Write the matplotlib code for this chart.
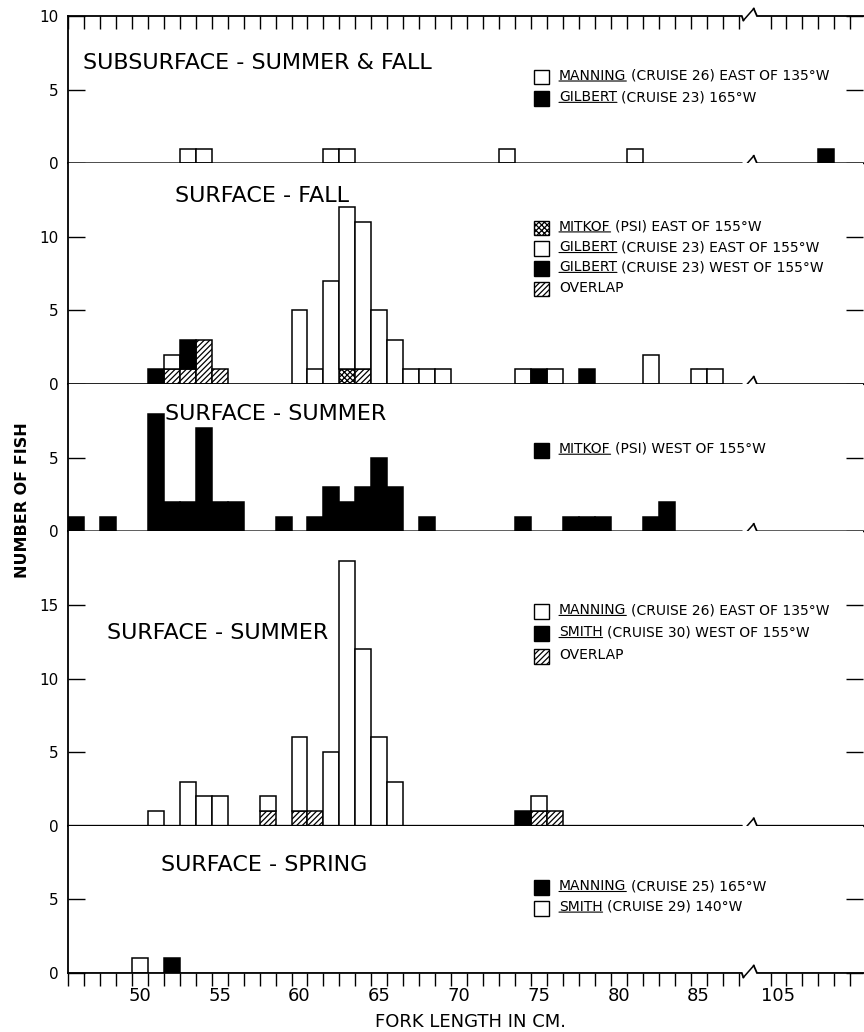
import matplotlib
matplotlib.use('Agg')
import matplotlib.pyplot as plt
from matplotlib.patches import Rectangle

plt.rcParams['font.family'] = ['DejaVu Sans']
plt.rcParams['hatch.linewidth'] = 0.9

# ---- data (fork length in cm, number of fish per 1-cm class) ----
# each list is the height of that bar segment; segments are stacked in the order drawn

# subsurface - summer & fall
p1_manning_len = [53, 54, 62, 63, 73, 81]
p1_manning_n = [1, 1, 1, 1, 1, 1]
p1_gilbert_len = [108]
p1_gilbert_n = [1]

# surface - fall
p2_mitkof_len = [63]
p2_mitkof_n = [1]
p2_overlap_len = [52, 53, 54, 55, 64]
p2_overlap_n = [1, 1, 3, 1, 1]
p2_east_len = [52, 60, 61, 62, 63, 64, 65, 66, 67, 68, 69, 74, 76, 82, 85, 86]
p2_east_n = [1, 5, 1, 7, 11, 10, 5, 3, 1, 1, 1, 1, 1, 2, 1, 1]
p2_west_len = [51, 53, 75, 78]
p2_west_n = [1, 2, 1, 1]

# surface - summer (mitkof)
p3_mitkof_len = [46, 48, 51, 52, 53, 54, 55, 56, 59, 61, 62, 63, 64, 65, 66,
                 68, 74, 77, 78, 79, 82, 83]
p3_mitkof_n = [1, 1, 8, 2, 2, 7, 2, 2, 1, 1, 3, 2, 3, 5, 3,
               1, 1, 1, 1, 1, 1, 2]

# surface - summer (manning / smith)
p4_overlap_len = [58, 60, 61, 75, 76]
p4_overlap_n = [1, 1, 1, 1, 1]
p4_manning_len = [51, 53, 54, 55, 58, 60, 62, 63, 64, 65, 66, 75]
p4_manning_n = [1, 3, 2, 2, 1, 5, 5, 18, 12, 6, 3, 1]
p4_smith_len = [74]
p4_smith_n = [1]

# surface - spring
p5_smith_len = [50]
p5_smith_n = [1]
p5_manning_len = [52]
p5_manning_n = [1]

x_labels = [50, 55, 60, 65, 70, 75, 80, 85, 105]

BREAK_SHIFT = 15  # scale break: 105 cm sits where 90 would be


def pos(lengths):
    return [v - BREAK_SHIFT if v > 88 else v for v in lengths]


WHITE = dict(facecolor='white')
BLACK = dict(facecolor='black')
HATCH = dict(facecolor='white', hatch='//////')
CROSS = dict(facecolor='white', hatch='xxxxxx')


def stack(ax, base, lengths, counts, style):
    bottoms = [base.get(v, 0) for v in lengths]
    ax.bar(pos(lengths), counts, width=1.0, bottom=bottoms,
           edgecolor='black', linewidth=1.1, **style)
    for v, c in zip(lengths, counts):
        base[v] = base.get(v, 0) + c


def broken_line(ax, y):
    # axis line with a slash-like break between 87 and 105 cm
    ax.plot([45.5, 87.7, 87.8], [y, y, y - 0.3], color='black', lw=1.3,
            clip_on=False, zorder=5, solid_joinstyle='miter')
    ax.plot([87.8, 88.45], [y - 0.3, y + 0.5], color='black', lw=1.1,
            clip_on=False, zorder=5)
    ax.plot([88.45, 88.65, 95.3], [y + 0.5, y, y], color='black', lw=1.3,
            clip_on=False, zorder=5, solid_joinstyle='miter')


def legend_row(ax, y, style, name, rest):
    ax.add_patch(Rectangle((74.7, y - 0.5), 0.92, 1.0, edgecolor='black',
                           linewidth=1.0, clip_on=False, **style))
    t = ax.text(76.25, y - 0.38, name, fontsize=10, va='bottom', ha='left')
    if rest:
        ax.annotate(rest, xy=(1, 0), xycoords=t, xytext=(3, 0),
                    textcoords='offset points', fontsize=10,
                    va='bottom', ha='left')
        ax.annotate('', xy=(0, 0.12), xycoords=t, xytext=(1, 0.12),
                    textcoords=t,
                    arrowprops=dict(arrowstyle='-', lw=0.8,
                                    shrinkA=0, shrinkB=0))


fig = plt.figure(figsize=(8.64, 10.32), dpi=100)
gs = fig.add_gridspec(5, 1, height_ratios=[10, 15, 10, 20, 10],
                      left=0.0787, right=0.999, top=0.9845, bottom=0.0572,
                      hspace=0)
axes = [fig.add_subplot(gs[i]) for i in range(5)]

ylims = [10, 15, 10, 20, 10]
yticks = [[0, 5, 10], [0, 5, 10], [0, 5], [0, 5, 10, 15], [0, 5]]
minor_x = [x + 0.5 for x in range(45, 88)] + [x + 0.5 for x in range(89, 95)]

for ax, top, yt in zip(axes, ylims, yticks):
    ax.set_xlim(45.5, 95.3)
    ax.set_ylim(0, top)
    for s in ['top', 'bottom', 'right']:
        ax.spines[s].set_visible(False)
    ax.spines['left'].set_linewidth(1.3)
    ax.set_yticks(yt)
    ax.tick_params(axis='y', direction='in', length=12, width=1.0,
                   labelsize=11, pad=7, right=True)
    ax.set_xticks([])
    ax.set_xticks(minor_x, minor=True)
    ax.tick_params(axis='x', which='minor', bottom=False, top=False)
    broken_line(ax, 0)

TITLE = 16

# panel 1
ax = axes[0]
b = {}
stack(ax, b, p1_manning_len, p1_manning_n, WHITE)
stack(ax, b, p1_gilbert_len, p1_gilbert_n, BLACK)
broken_line(ax, 10)
ax.tick_params(axis='x', which='minor', top=True, direction='in',
               length=9, width=1.0)
ax.text(46.45, 6.8, 'SUBSURFACE - SUMMER & FALL', fontsize=TITLE, va='center')
legend_row(ax, 5.85, WHITE, 'MANNING', '(CRUISE 26) EAST OF 135°W')
legend_row(ax, 4.4, BLACK, 'GILBERT', '(CRUISE 23) 165°W')

# panel 2
ax = axes[1]
b = {}
stack(ax, b, p2_mitkof_len, p2_mitkof_n, CROSS)
stack(ax, b, p2_overlap_len, p2_overlap_n, HATCH)
stack(ax, b, p2_east_len, p2_east_n, WHITE)
stack(ax, b, p2_west_len, p2_west_n, BLACK)
ax.text(52.2, 12.8, 'SURFACE - FALL', fontsize=TITLE, va='center')
legend_row(ax, 10.6, CROSS, 'MITKOF', '(PSI) EAST OF 155°W')
legend_row(ax, 9.2, WHITE, 'GILBERT', '(CRUISE 23) EAST OF 155°W')
legend_row(ax, 7.85, BLACK, 'GILBERT', '(CRUISE 23) WEST OF 155°W')
legend_row(ax, 6.45, HATCH, 'OVERLAP', '')

# panel 3
ax = axes[2]
b = {}
stack(ax, b, p3_mitkof_len, p3_mitkof_n, BLACK)
ax.text(51.6, 8.0, 'SURFACE - SUMMER', fontsize=TITLE, va='center')
legend_row(ax, 5.5, BLACK, 'MITKOF', '(PSI) WEST OF 155°W')

# panel 4
ax = axes[3]
b = {}
stack(ax, b, p4_overlap_len, p4_overlap_n, HATCH)
stack(ax, b, p4_manning_len, p4_manning_n, WHITE)
stack(ax, b, p4_smith_len, p4_smith_n, BLACK)
ax.text(47.95, 13.1, 'SURFACE - SUMMER', fontsize=TITLE, va='center')
legend_row(ax, 14.55, WHITE, 'MANNING', '(CRUISE 26) EAST OF 135°W')
legend_row(ax, 13.05, BLACK, 'SMITH', '(CRUISE 30) WEST OF 155°W')
legend_row(ax, 11.5, HATCH, 'OVERLAP', '')

# panel 5
ax = axes[4]
b = {}
stack(ax, b, p5_smith_len, p5_smith_n, WHITE)
stack(ax, b, p5_manning_len, p5_manning_n, BLACK)
ax.text(51.3, 7.3, 'SURFACE - SPRING', fontsize=TITLE, va='center')
legend_row(ax, 5.8, BLACK, 'MANNING', '(CRUISE 25) 165°W')
legend_row(ax, 4.4, WHITE, 'SMITH', '(CRUISE 29) 140°W')
ax.set_xticks(pos(x_labels))
ax.set_xticklabels([str(v) for v in x_labels])
ax.tick_params(axis='x', which='major', length=0, labelsize=13, pad=10)
ax.tick_params(axis='x', which='minor', bottom=True, direction='out',
               length=9, width=1.0)

fig.text(0.026, 0.515, 'NUMBER OF FISH', rotation=90, fontsize=11.5,
         fontweight='bold', ha='center', va='center')
fig.text(0.544, 0.0095, 'FORK LENGTH IN CM.', fontsize=13,
         ha='center', va='center')

fig.savefig('out.png', dpi=100)
